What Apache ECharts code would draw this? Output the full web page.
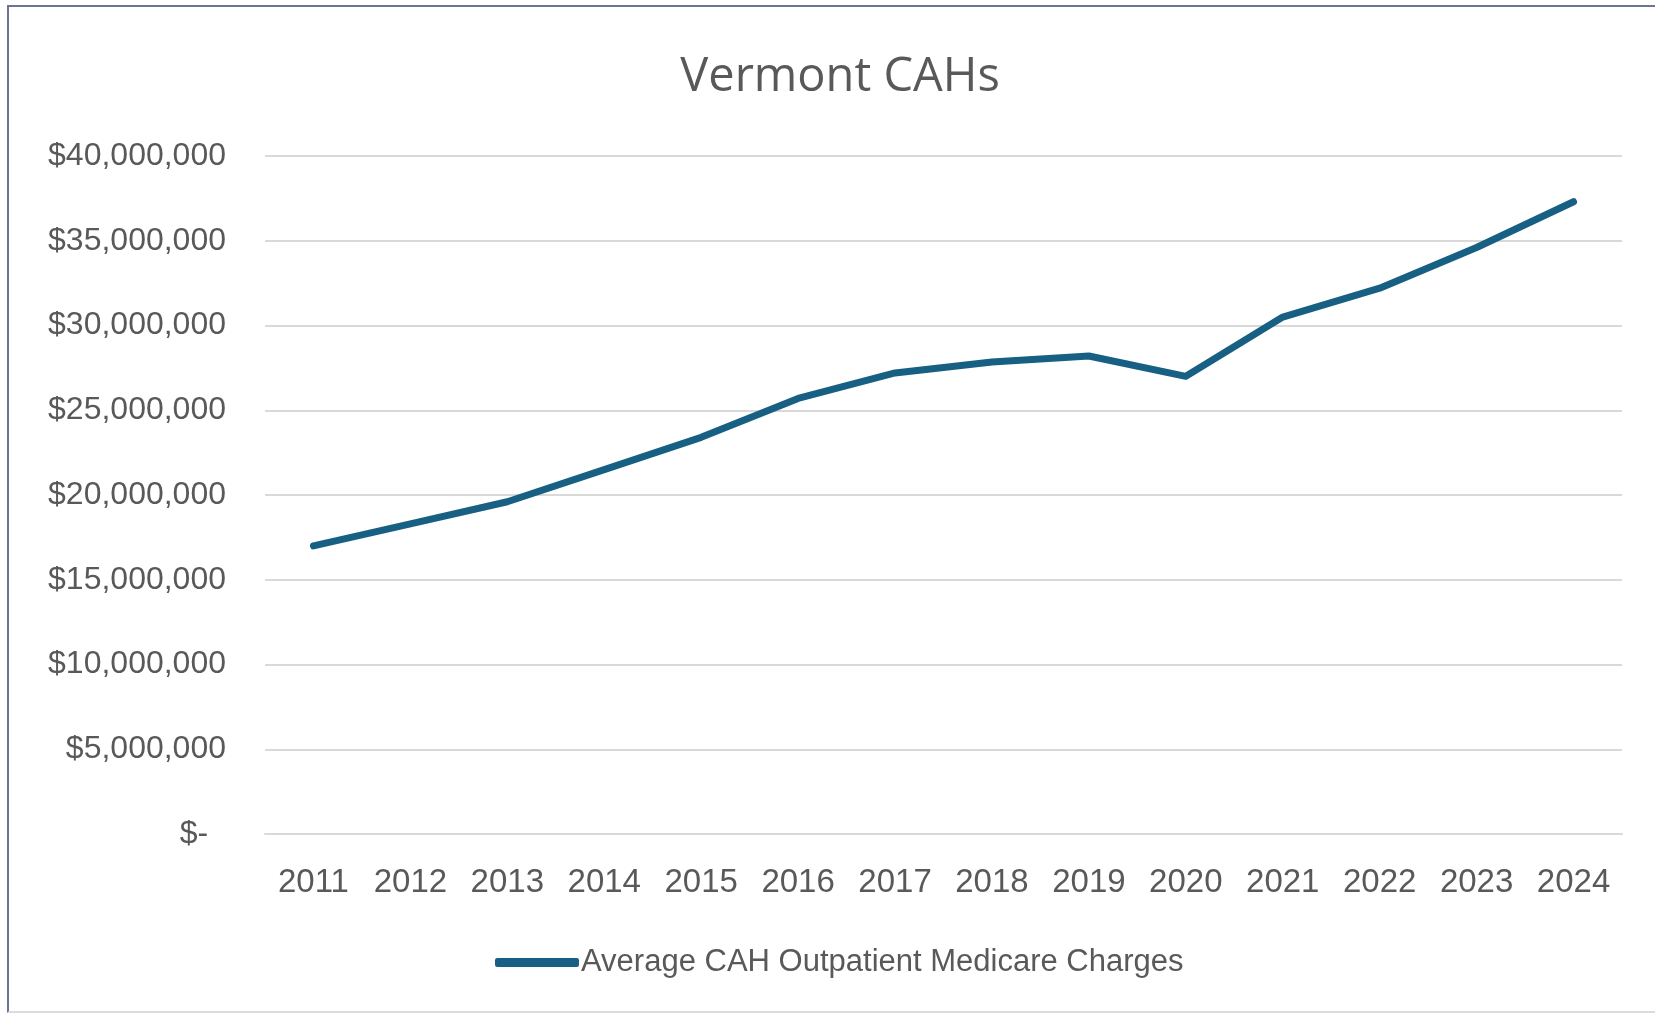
<!DOCTYPE html>
<html>
<head>
<meta charset="utf-8">
<script src="https://cdn.jsdelivr.net/npm/echarts@6/dist/echarts.min.js"></script>
<style>
  html, body { margin: 0; padding: 0; background: #fff; }
  #frame {
    position: absolute; left: 0; top: 0; width: 1655px; height: 1016px;
    background: #fff; overflow: hidden;
  }
  #edge {
    position: absolute; left: 7px; top: 5px; right: -10px; bottom: 3px;
    border-left: 2px solid #6d7491; border-top: 2px solid #6d7491;
    border-bottom: 2px solid #dcdcdc;
  }
  #chart { position: absolute; left: 0; top: 0; width: 1655px; height: 1016px; }
</style>
</head>
<body>
<div id="frame">
  <div id="edge"></div>
  <div id="chart"></div>
</div>
<script>
  // data
  var years = ['2011', '2012', '2013', '2014', '2015', '2016', '2017',
               '2018', '2019', '2020', '2021', '2022', '2023', '2024'];
  var charges = [17000000, 18300000, 19600000, 21500000, 23400000, 25700000, 27200000,
                 27850000, 28200000, 27000000, 30500000, 32200000, 34600000, 37300000];
  var seriesName = 'Average CAH Outpatient Medicare Charges';
  var chartTitle = 'Vermont CAHs';

  var chart = echarts.init(document.getElementById('chart'));
  var textColor = '#595959';

  var option = {
    animation: false,
    title: {
      text: chartTitle,
      left: 835,
      textAlign: 'center',
      top: 49,
      textStyle: {
        color: textColor,
        fontFamily: 'Open Sans',
        fontWeight: 'normal',
        fontSize: 47
      }
    },
    legend: {
      left: 490,
      top: 942,
      icon: 'roundRect',
      itemWidth: 84,
      itemHeight: 9,
      itemGap: 0,
      textStyle: {
        color: textColor,
        fontFamily: 'Liberation Sans',
        fontSize: 31,
        padding: [0, 0, 0, -3]
      },
      data: [seriesName]
    },
    grid: {
      left: 265,
      right: 33,
      top: 156,
      bottom: 182
    },
    xAxis: {
      type: 'category',
      boundaryGap: true,
      data: years,
      axisLine: { show: true, lineStyle: { color: '#d9d9d9', width: 2 } },
      axisTick: { show: false },
      axisLabel: {
        color: textColor,
        fontFamily: 'Liberation Sans',
        fontSize: 33,
        margin: 32
      }
    },
    yAxis: {
      type: 'value',
      min: 0,
      max: 40000000,
      interval: 5000000,
      axisLine: { show: false },
      axisTick: { show: false },
      splitLine: { lineStyle: { color: '#d9d9d9', width: 2 } },
      axisLabel: {
        color: textColor,
        fontFamily: 'Liberation Sans',
        fontSize: 32,
        margin: 39,
        formatter: function (v) {
          if (v === 0) return '$-  ';
          return '$' + v.toLocaleString('en-US');
        }
      }
    },
    series: [
      {
        name: seriesName,
        type: 'line',
        data: charges,
        showSymbol: false,
        symbol: 'none',
        itemStyle: { color: '#176083' },
        lineStyle: { color: '#176083', width: 7, cap: 'round', join: 'round' }
      }
    ]
  };

  chart.setOption(option);
</script>
</body>
</html>
